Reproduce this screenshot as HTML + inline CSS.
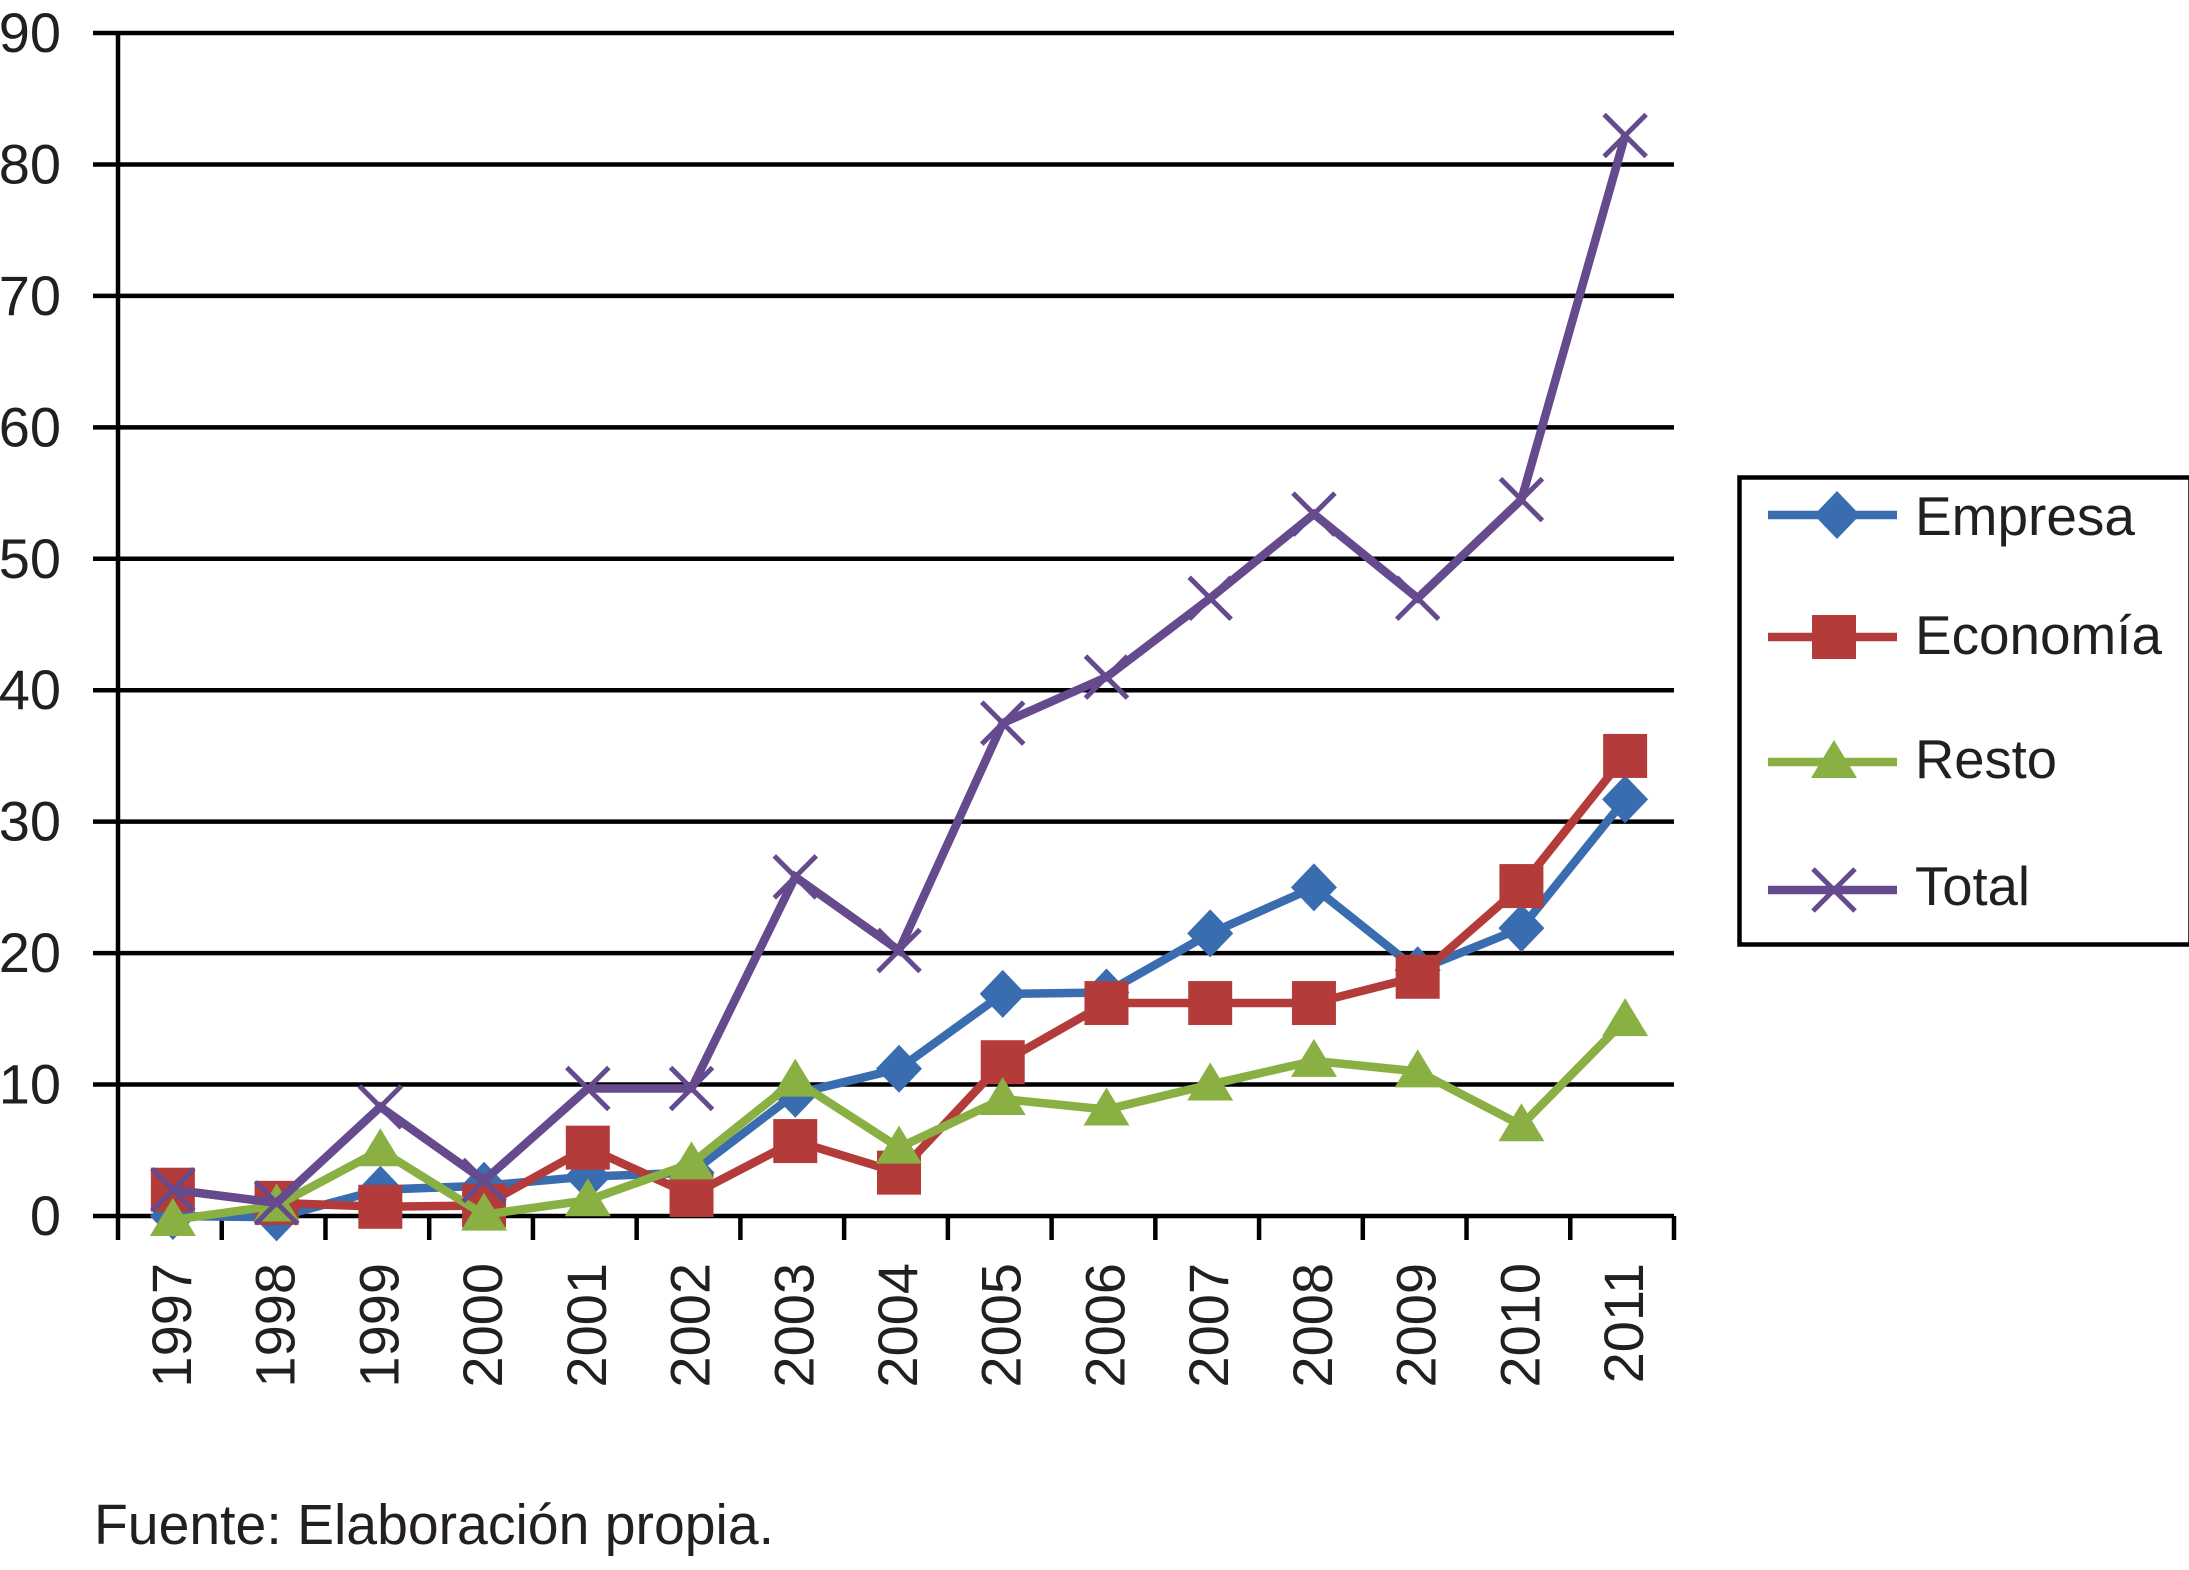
<!DOCTYPE html>
<html lang="es">
<head>
<meta charset="utf-8">
<title>Empresa, Economía, Resto, Total 1997-2011</title>
<style>
html,body{margin:0;padding:0;background:#fff;width:2189px;height:1570px;overflow:hidden}
svg{display:block}
text{font-family:"Liberation Sans",sans-serif;fill:#231f20}
</style>
</head>
<body>
<svg id="chart" xmlns="http://www.w3.org/2000/svg" width="2189" height="1570" viewBox="0 0 2189 1570">
  <g id="grid"></g>
  <g id="yLabels"></g>
  <g id="xAxis"></g>
  <g id="series"></g>
  <g id="legend"></g>
  <text x="94" y="1544" font-size="57" textLength="680" lengthAdjust="spacingAndGlyphs">Fuente: Elaboración propia.</text>
</svg>
<script>
const years = ['1997','1998','1999','2000','2001','2002','2003','2004','2005','2006','2007','2008','2009','2010','2011'];
const yTicks = [0,10,20,30,40,50,60,70,80,90];
const empresa = [0,-0.1,2,2.3,3,3.3,9.3,11.2,16.9,17,21.5,25,18.7,21.9,31.7];
const economia = [2,1,0.7,0.8,5.2,1.6,5.7,3.3,11.7,16.2,16.2,16.2,18.2,25.1,35];
const resto = [-0.3,0.8,5,0.1,1.2,4,10.3,5.2,8.9,8.1,10,11.8,11,6.9,14.9];
const total = [2,1,8.3,2.7,9.7,9.7,25.8,20.2,37.5,41,47,53.4,47,54.5,82.2];
const seriesNames = ['Empresa','Economía','Resto','Total'];

const NS = 'http://www.w3.org/2000/svg';
const plot = {left:118, right:1674, top:33, bottom:1216};
const yMax = 90;
const pointShift = 3;
function xBand(i){ return plot.left + (plot.right - plot.left) * i / years.length; }
function xPos(i){ return xBand(i + 0.5) + pointShift; }
function yPos(v){ return plot.bottom - (plot.bottom - plot.top) * v / yMax; }
function el(tag, parent, attrs){
  const e = document.createElementNS(NS, tag);
  for (const k in attrs) e.setAttribute(k, attrs[k]);
  parent.appendChild(e);
  return e;
}
const palette = ['#3a6cb0','#b33c3a','#8ab043','#654a8e'];
const kinds = ['diamond','square','triangle','cross'];

function drawMarker(parent, kind, color, x, y){
  if (kind === 'diamond') {
    return el('polygon', parent, {points:`${x},${y-24} ${x+23},${y} ${x},${y+24} ${x-23},${y}`, fill:color});
  }
  if (kind === 'square') {
    return el('rect', parent, {x:x-22, y:y-22, width:44, height:44, fill:color});
  }
  if (kind === 'triangle') {
    return el('polygon', parent, {points:`${x},${y-22} ${x+23},${y+16} ${x-23},${y+16}`, fill:color});
  }
  return el('path', parent, {d:`M${x-21} ${y-21}L${x+21} ${y+21}M${x+21} ${y-21}L${x-21} ${y+21}`, stroke:color, 'stroke-width':5, fill:'none'});
}

const gridG = document.getElementById('grid');
const yG = document.getElementById('yLabels');
yTicks.forEach(function(t){
  const line = el('line', gridG, {x1:93, x2:plot.right, y1:yPos(t), y2:yPos(t), stroke:'#000', 'stroke-width':4.5});
  
  
  const label = el('text', yG, {x:61, y:yPos(t)+19, 'text-anchor':'end', 'font-size':56});
  label.textContent = t;
  
  
});

const yAxisLine = el('line', gridG, {x1:plot.left, x2:plot.left, y1:plot.top, y2:plot.bottom+24, stroke:'#000', 'stroke-width':4.5});



const xG = document.getElementById('xAxis');
for (let i = 1; i <= years.length; i++) {
  const tick = el('line', xG, {x1:xBand(i), x2:xBand(i), y1:plot.bottom, y2:plot.bottom+24, stroke:'#000', 'stroke-width':4.5});
  
  
}
years.forEach(function(yr, i){
  const bx = xBand(i + 0.5) + 21;
  const by = 1263;
  const label = el('text', xG, {x:0, y:0, transform:`translate(${bx} ${by}) rotate(-90)`, 'text-anchor':'end', 'font-size':56});
  label.textContent = yr;
  
  
});

const seriesG = document.getElementById('series');
[empresa, economia, resto, total].forEach(function(values, s){
  const g = el('g', seriesG, {});
  
  
  const pts = values.map(function(v, i){ return xPos(i) + ',' + yPos(v); }).join(' ');
  const line = el('polyline', g, {points:pts, fill:'none', stroke:palette[s], 'stroke-width':8.5, 'stroke-linejoin':'miter'});
  
  
  values.forEach(function(v, i){
    const m = drawMarker(g, kinds[s], palette[s], xPos(i), yPos(v));
    
    
  });
});

const legendG = document.getElementById('legend');
const legendBox = el('rect', legendG, {x:1739.5, y:477.5, width:451, height:467, fill:'#fff', stroke:'#000', 'stroke-width':4.5});


const legendRows = [515,637,762,890];
const legendBase = [535,654,778,905];
const legendWidth = [220,247,142,115];
const legendMarkX = [1837,1834,1834,1834];
const legendTextX = [1915,1915,1915,1915];
seriesNames.forEach(function(name, s){
  const g = el('g', legendG, {});
  
  
  const line = el('line', g, {x1:1768, x2:1897, y1:legendRows[s], y2:legendRows[s], stroke:palette[s], 'stroke-width':8.5});
  
  
  const m = drawMarker(g, kinds[s], palette[s], legendMarkX[s], legendRows[s]);
  
  
  const t = el('text', g, {x:legendTextX[s], y:legendBase[s], 'font-size':55, textLength:legendWidth[s], lengthAdjust:'spacingAndGlyphs'});
  t.textContent = name;
  
  
});
</script>
</body>
</html>
